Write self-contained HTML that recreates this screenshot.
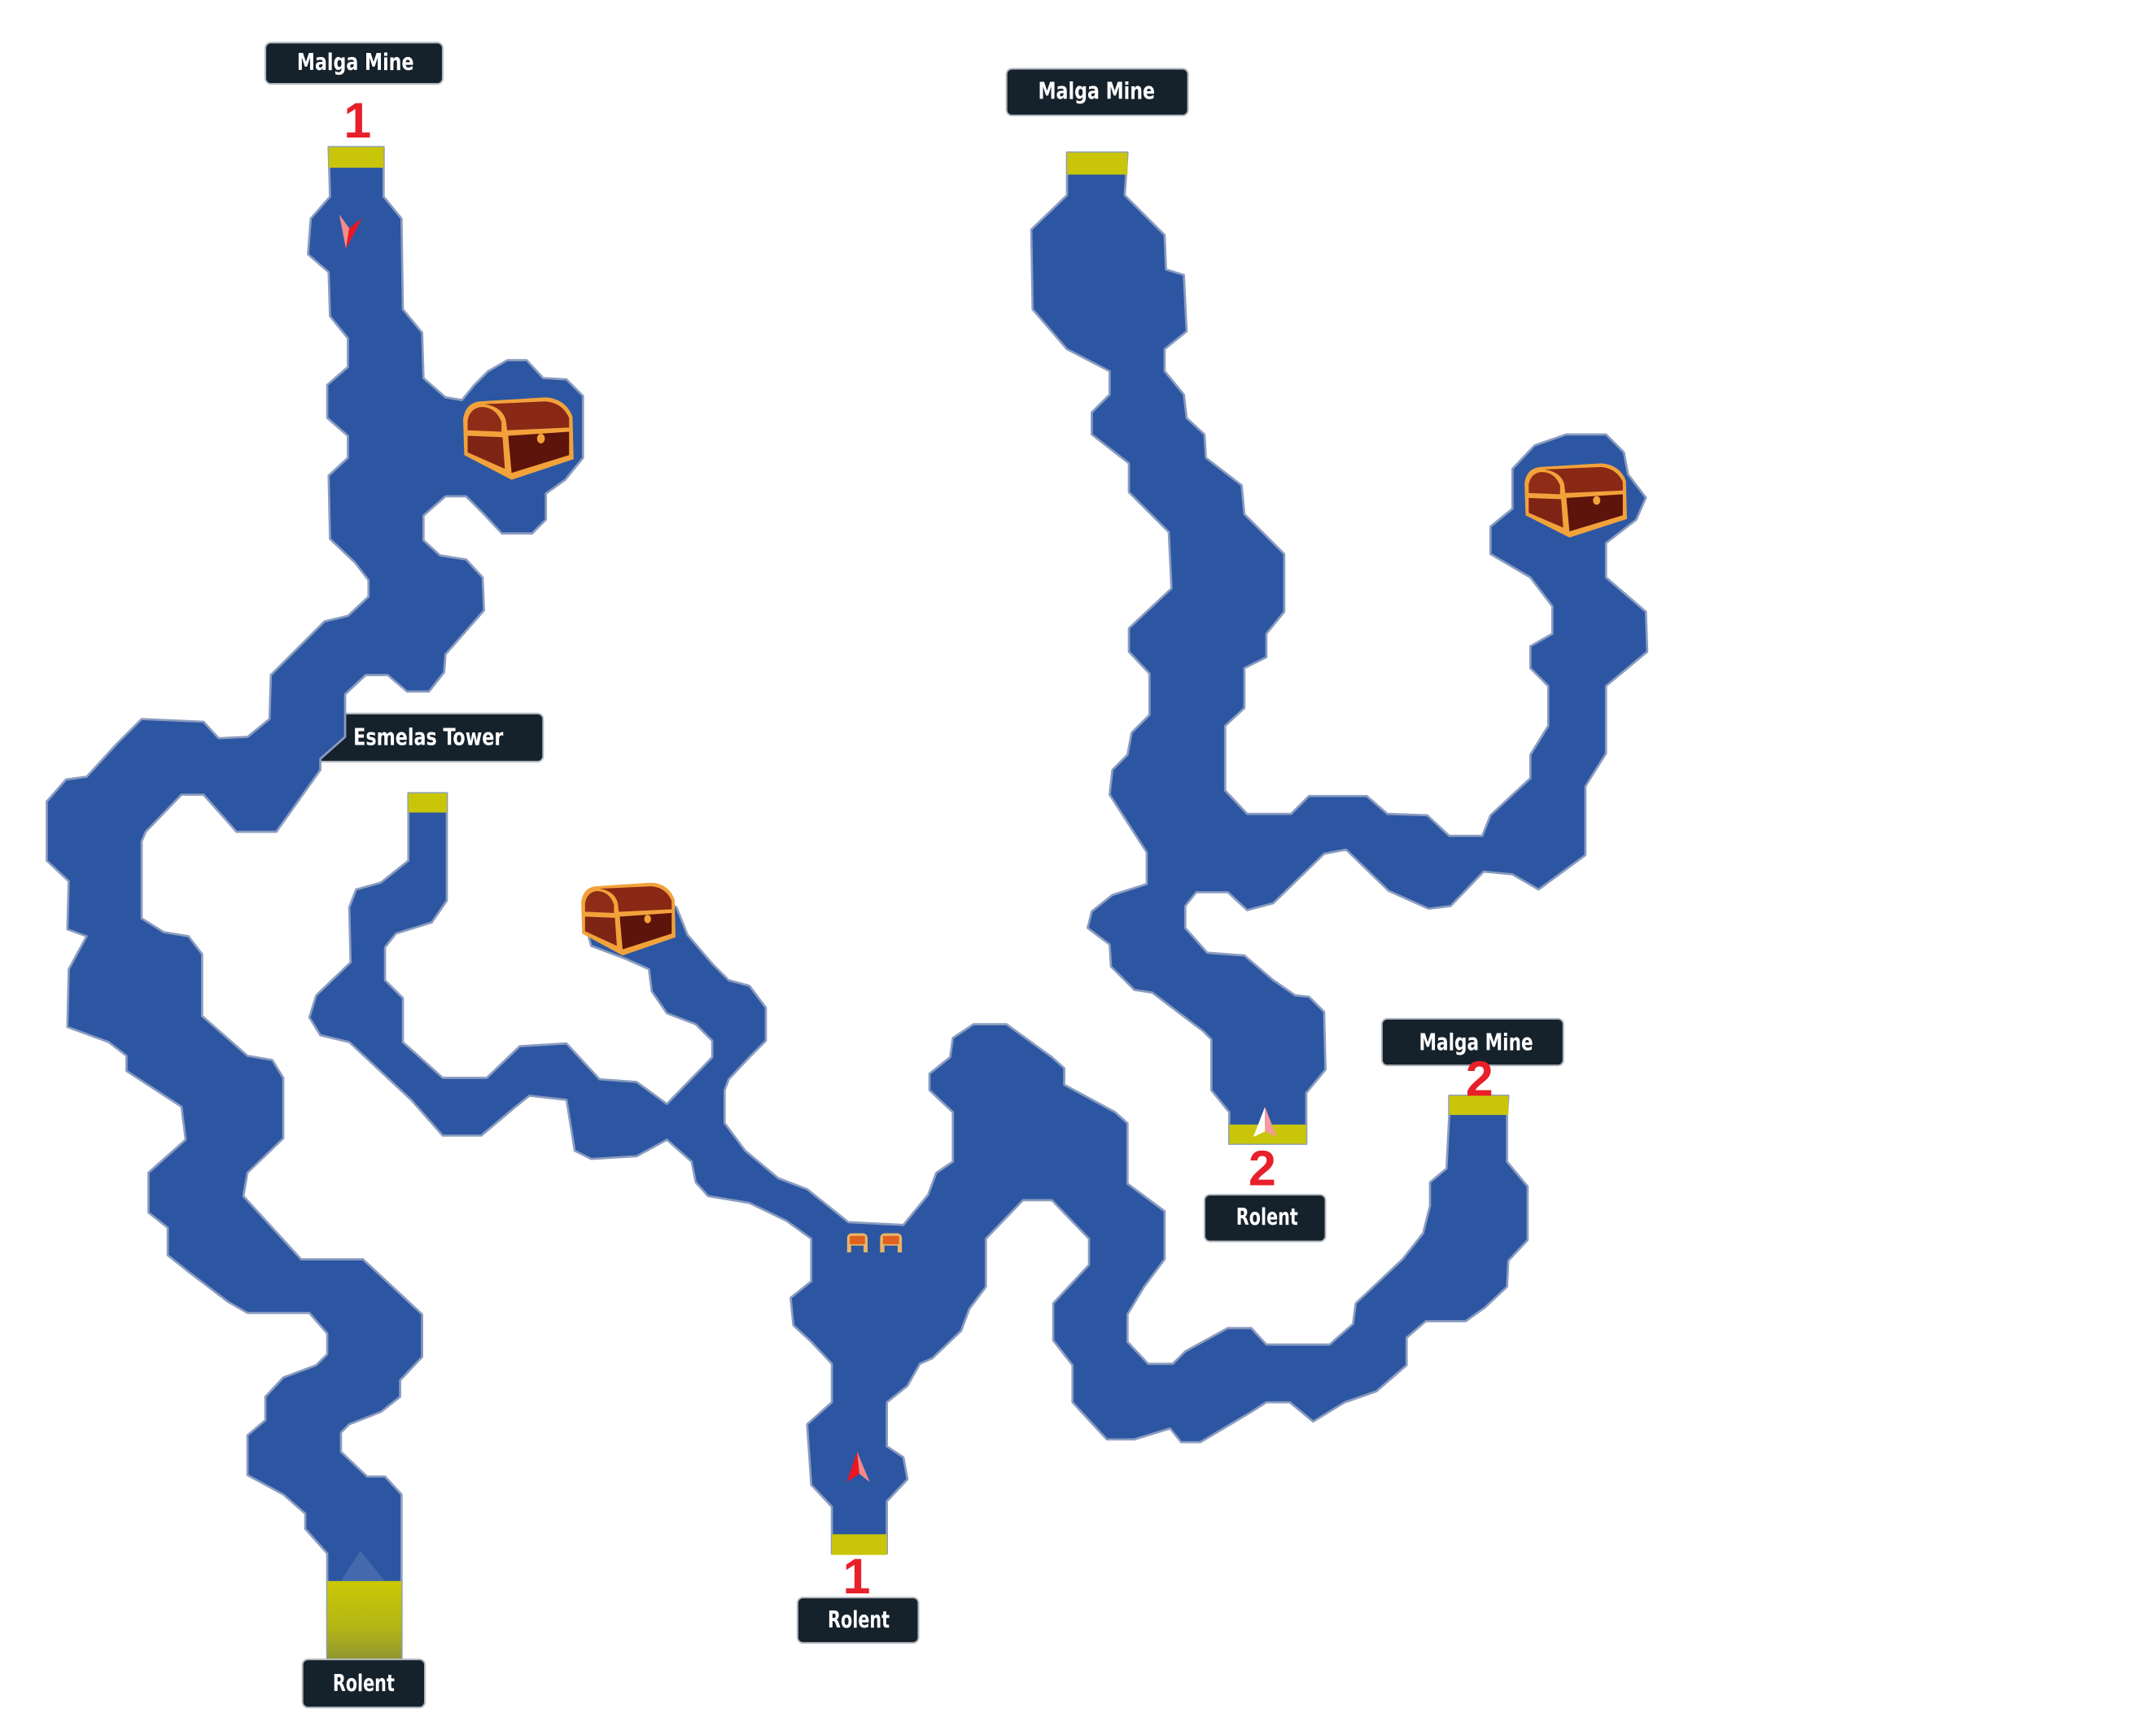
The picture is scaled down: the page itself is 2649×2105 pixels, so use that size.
<!DOCTYPE html>
<html>
<head>
<meta charset="utf-8">
<style>
html,body{margin:0;padding:0;background:#ffffff;}
body{width:2649px;height:2105px;overflow:hidden;}
svg{display:block;}
.lbl{fill:#15222c;stroke:#b4bac0;stroke-width:1.2;}
.lt{fill:#ffffff;font-family:"DejaVu Sans Condensed","DejaVu Sans","Liberation Sans",sans-serif;font-weight:bold;font-size:17px;}
.num{fill:#e8202a;font-family:"Liberation Sans",sans-serif;font-weight:bold;font-size:36px;}
.cave{fill:#2c56a2;stroke:#8a9cbf;stroke-width:1.6;stroke-linejoin:round;}
.yel{fill:#c9c60a;}
</style>
</head>
<body>
<svg width="2649" height="2105" viewBox="0 0 1568 1246" preserveAspectRatio="none" xmlns="http://www.w3.org/2000/svg">
<defs>
  <linearGradient id="yg" x1="0" y1="0" x2="0" y2="1">
    <stop offset="0" stop-color="#cbc805"/>
    <stop offset="0.6" stop-color="#b3b516"/>
    <stop offset="1" stop-color="#8f9630"/>
  </linearGradient>
  <symbol id="chest" viewBox="0 0 100 60" preserveAspectRatio="none">
    <path d="M1,16 Q3,4 16,3 L74,0 Q92,1 98,14 L99,45 L44,60 L2,42 Z" fill="#f2a23a"/>
    <path d="M5,17 Q7,8 17,7 Q30,7 35,18 L35,25 L5,24 Z" fill="#8e2c18"/>
    <path d="M20,5 L74,3 Q89,4 95,15 L95,22 L40,24 L39,17 Q36,7 20,5 Z" fill="#8a2816"/>
    <path d="M5,28 L36,29 L38,52 L5,40 Z" fill="#7e2414"/>
    <path d="M41,28 L95,25 L95,42 L44,55 Z" fill="#5c140b"/>
    <circle cx="70" cy="30" r="3.5" fill="#f2a23a"/>
  </symbol>
  <symbol id="item" viewBox="0 0 15 14" preserveAspectRatio="none">
    <path d="M0,14 L0,4 Q0,0 4,0 L11,0 Q15,0 15,4 L15,14 L12,14 L12,9 L3,9 L3,14 Z" fill="#e8b468"/>
    <rect x="2" y="2" width="11" height="6" fill="#e0601e"/>
  </symbol>
</defs>

<!-- Esmelas Tower label (under path) -->
<rect class="lbl" x="225" y="519" width="170" height="35" rx="4"/>

<!-- Left cave -->
<polygon class="cave" points="239,107 279,107 279,143 292,159 293,225 307,242 308,275 324,289 336,291 345,280 355,270 369,262 383,262 395,275 412,276 424,288 424,333 411,349 397,359 397,378 387,388 365,388 351,373 339,361 324,361 308,375 308,393 320,404 339,407 351,420 352,444 324,476 323,489 312,503 296,503 282,491 266,491 251,505 251,536 233,552 233,560 201,605 172,605 148,578 132,578 106,605 103,612 103,668 119,678 137,681 147,694 147,739 180,768 198,771 206,784 206,828 180,853 177,870 219,916 264,916 307,956 307,987 291,1004 291,1016 277,1027 254,1036 248,1042 248,1056 267,1074 280,1074 292,1087 292,1207 238,1207 238,1130 222,1112 222,1101 206,1087 180,1073 180,1044 193,1033 193,1016 206,1002 230,993 238,985 238,970 225,955 180,955 166,947 137,925 122,913 122,893 108,882 108,853 135,829 132,805 92,779 92,768 79,758 49,747 50,705 63,681 49,676 50,641 34,626 34,583 48,567 63,565 85,541 103,523 148,525 159,537 180,536 196,523 197,491 236,452 253,448 268,434 268,422 258,409 240,392 239,346 253,333 253,317 238,304 238,280 253,267 253,246 240,230 239,198 224,185 226,159 240,143"/>

<!-- Center cave network -->
<polygon class="cave" points="297,577 325,577 325,655 314,671 288,679 280,689 280,713 293,726 293,758 322,784 354,784 378,761 412,759 436,785 463,787 485,803 518,769 518,757 506,745 485,737 474,721 472,705 454,697 430,688 425,670 440,650 470,645 492,660 500,680 518,701 530,713 545,717 557,733 557,757 545,769 530,785 527,793 527,817 542,837 566,857 587,865 602,877 617,889 657,891 675,869 681,853 693,845 693,809 676,793 676,781 691,769 693,755 708,745 732,745 765,769 774,777 774,789 811,809 820,817 820,861 847,881 847,916 832,936 820,956 820,976 835,992 853,992 862,983 893,966 910,966 921,978 967,978 984,963 986,948 1020,916 1035,897 1040,877 1040,860 1052,850 1054,811 1054,797 1097,797 1096,811 1096,845 1111,863 1111,902 1097,917 1096,936 1080,951 1066,961 1037,961 1023,973 1023,993 1001,1012 978,1020 955,1034 938,1020 921,1020 910,1027 873,1049 859,1049 851,1039 825,1047 805,1047 780,1020 780,993 766,975 766,948 792,920 792,901 765,873 744,873 717,901 717,936 705,952 699,968 678,988 669,992 660,1008 645,1020 645,1052 657,1060 660,1076 645,1092 645,1130 605,1130 605,1096 590,1080 587,1036 605,1020 605,992 590,976 577,964 575,944 590,932 590,901 572,888 545,875 515,870 506,860 503,845 485,829 463,841 430,843 418,837 412,800 385,797 375,805 350,826 322,826 299,800 254,758 233,753 225,740 230,724 255,700 254,660 259,647 277,642 297,626"/>

<!-- Right upper cave -->
<polygon class="cave" points="776,111 820,111 818,142 847,171 848,196 861,200 863,241 847,254 847,270 861,287 863,304 876,316 877,333 903,353 905,374 934,403 934,445 921,461 921,478 905,486 905,515 891,528 891,575 907,592 939,592 952,579 994,579 1009,592 1038,593 1054,608 1078,608 1084,593 1113,566 1113,549 1126,528 1126,499 1113,486 1113,470 1129,461 1129,441 1113,420 1084,403 1084,383 1100,370 1100,341 1116,324 1139,316 1168,316 1181,329 1184,345 1197,362 1190,378 1168,395 1168,420 1197,445 1198,474 1168,499 1168,548 1153,572 1153,622 1119,647 1100,636 1079,634 1055,659 1039,661 1010,648 979,618 963,621 926,657 907,662 893,649 870,649 862,659 862,675 878,693 905,695 926,713 942,724 952,725 963,736 964,778 950,795 950,832 894,832 894,809 881,793 881,756 875,750 838,722 825,720 808,703 807,687 791,675 794,663 809,651 834,643 834,620 807,578 809,560 820,549 823,533 836,520 836,490 821,474 821,457 852,428 850,387 821,358 821,337 794,316 794,300 807,287 807,270 776,254 751,225 750,167 776,142"/>

<!-- Yellow entrances -->
<rect class="yel" x="239" y="107" width="40" height="15"/>
<rect class="yel" x="776" y="111" width="44" height="16"/>
<rect class="yel" x="297" y="577" width="28" height="14"/>
<rect fill="url(#yg)" x="238" y="1150" width="54" height="57"/>
<polygon points="248,1150 262,1128 280,1150" fill="#5a7bb6" opacity="0.55"/>
<rect class="yel" x="605" y="1116" width="40" height="15"/>
<rect class="yel" x="894" y="818" width="56" height="14"/>
<rect class="yel" x="1054" y="797" width="43" height="14"/>

<!-- Chests -->
<use href="#chest" x="336" y="289" width="82" height="60"/>
<use href="#chest" x="422" y="642" width="70" height="53"/>
<use href="#chest" x="1108" y="337" width="76" height="54"/>

<!-- Small items in central room -->
<use href="#item" x="616" y="897" width="15" height="14"/>
<use href="#item" x="640" y="897" width="16" height="14"/>

<!-- Arrows -->
<polygon points="246.7,156 254,166 251.6,181" fill="#f48a8a"/>
<polygon points="254,166 263.4,158.6 251.6,181" fill="#ec1620"/>
<polygon points="623.4,1056 625,1072 615.8,1078" fill="#ec1620"/>
<polygon points="623.4,1056 632.5,1078 625,1072" fill="#f48a8a"/>
<polygon points="920,805 920,823 911.5,827" fill="#ffffff"/>
<polygon points="920,805 928.4,827 920,823" fill="#f49a9a"/>

<!-- Labels -->
<rect class="lbl" x="193" y="31" width="129" height="30" rx="4"/>
<text class="lt" x="216" y="51" textLength="85" lengthAdjust="spacingAndGlyphs">Malga Mine</text>

<rect class="lbl" x="732" y="50" width="132" height="34" rx="4"/>
<text class="lt" x="755" y="72" textLength="85" lengthAdjust="spacingAndGlyphs">Malga Mine</text>

<text class="lt" x="257" y="542" textLength="109" lengthAdjust="spacingAndGlyphs">Esmelas Tower</text>

<rect class="lbl" x="1005" y="741" width="132" height="34" rx="4"/>
<text class="lt" x="1032" y="764" textLength="83" lengthAdjust="spacingAndGlyphs">Malga Mine</text>

<rect class="lbl" x="876" y="869" width="88" height="34" rx="4"/>
<text class="lt" x="899" y="891" textLength="45" lengthAdjust="spacingAndGlyphs">Rolent</text>

<rect class="lbl" x="580" y="1162" width="88" height="33" rx="4"/>
<text class="lt" x="602" y="1184" textLength="45" lengthAdjust="spacingAndGlyphs">Rolent</text>

<rect class="lbl" x="220" y="1207" width="89" height="35" rx="4"/>
<text class="lt" x="242" y="1230" textLength="45" lengthAdjust="spacingAndGlyphs">Rolent</text>

<!-- Red numbers -->
<text class="num" x="260" y="100" text-anchor="middle">1</text>
<text class="num" x="623" y="1159" text-anchor="middle">1</text>
<text class="num" x="918" y="862" text-anchor="middle">2</text>
<text class="num" x="1076" y="797" text-anchor="middle">2</text>
</svg>
</body>
</html>
